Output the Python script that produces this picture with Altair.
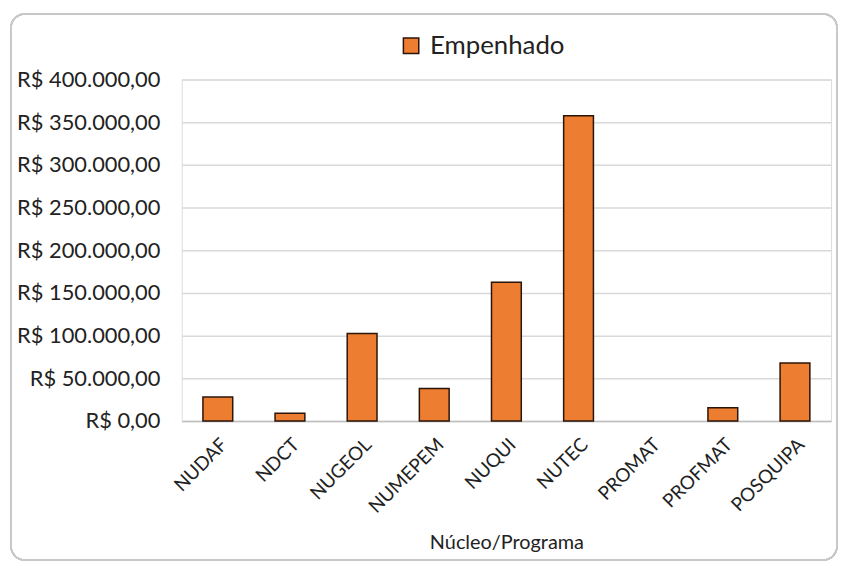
import altair as alt
import pandas as pd

categories = ["NUDAF", "NDCT", "NUGEOL", "NUMEPEM", "NUQUI", "NUTEC", "PROMAT", "PROFMAT", "POSQUIPA"]
empenhado = [28000, 9000, 102500, 38000, 162500, 357500, 0, 15500, 68000]
series_name = "Empenhado"

df = pd.DataFrame({"cat": categories, "val": empenhado, "serie": [series_name] * len(categories)})

FONT = "Lato"
W, H = 654, 344

bars = alt.Chart(df).mark_bar(
    stroke="#2b1408", width=30
).encode(
    x=alt.X("cat:N", sort=categories, title="Núcleo/Programa",
            scale=alt.Scale(paddingInner=0.0, paddingOuter=0.0),
            axis=alt.Axis(labelAngle=-45, labelFontSize=19, labelFont=FONT, labelColor="#222",
                          titleFont=FONT, titleFontSize=20, titleFontWeight="normal", titleColor="#222",
                          titlePadding=16, ticks=False, domainColor="#bfbfbf", domainWidth=1.5,
                          labelPadding=14, grid=False)),
    y=alt.Y("val:Q", title=None,
            scale=alt.Scale(domain=[0, 400000]),
            axis=alt.Axis(values=[0, 50000, 100000, 150000, 200000, 250000, 300000, 350000, 400000],
                          labelExpr="datum.value == 0 ? 'R$ 0,00' : 'R$ ' + format(datum.value/1000, 'd') + '.000,00'",
                          labelFont=FONT, labelFontSize=22, labelColor="#222", labelPadding=22,
                          ticks=False, domain=False, gridColor="#d9d9d9", gridWidth=1.5)),
    strokeWidth=alt.condition("datum.val > 0", alt.value(1.5), alt.value(0)),
    color=alt.Color("serie:N", scale=alt.Scale(range=["#ED7D31"]),
                    legend=alt.Legend(title=None, orient="none", legendX=218, legendY=-47,
                                      symbolType="square", symbolSize=240, symbolStrokeColor="#2b1408",
                                      symbolStrokeWidth=1.5, labelFont=FONT, labelFontSize=26,
                                      labelColor="#222", labelOffset=6)),
)

frame = alt.Chart(df).mark_rect(
    fill=None, stroke="#c8c8c8", strokeWidth=1.5, cornerRadius=14
).encode(
    x=alt.value(-172), x2=alt.value(W + 6), y=alt.value(-66), y2=alt.value(H + 140)
)

chart = alt.layer(frame, bars).properties(
    width=W, height=H, padding={"left": 2, "top": 3, "right": 0, "bottom": 0}
).configure_view(stroke=None).configure(background="white")

chart.save("out.html", embed_options={"renderer": "svg", "actions": False})
